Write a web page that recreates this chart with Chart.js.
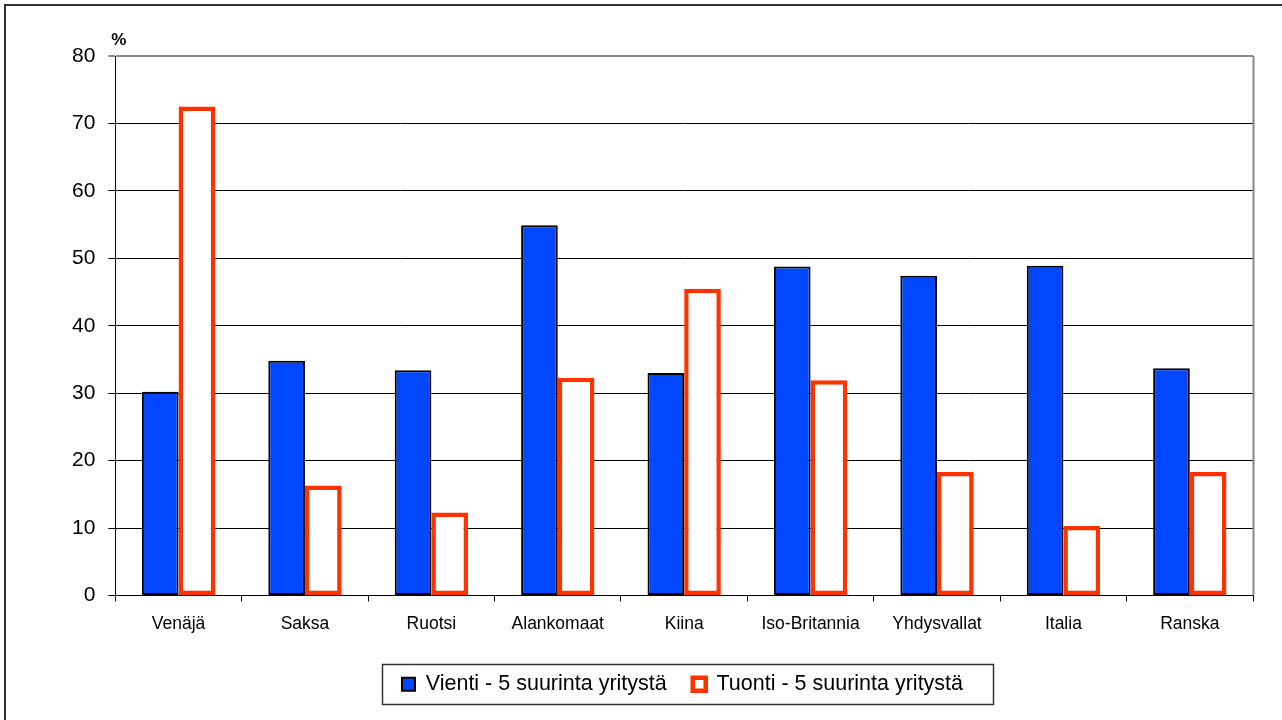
<!DOCTYPE html>
<html>
<head>
<meta charset="utf-8">
<script src="https://cdn.jsdelivr.net/npm/chart.js@4.4.1/dist/chart.umd.min.js"></script>
<style>
html,body{margin:0;padding:0;background:#fff;overflow:hidden;}
#wrap{position:absolute;left:0;top:0;width:1282px;height:720px;}
</style>
</head>
<body>
<div id="wrap"><canvas id="c" width="1282" height="720"></canvas></div>
<script>
const categories = ["Venäjä","Saksa","Ruotsi","Alankomaat","Kiina","Iso-Britannia","Yhdysvallat","Italia","Ranska"];
const vienti = [30.2, 34.8, 33.4, 54.9, 33.0, 48.8, 47.4, 48.9, 33.7];
const tuonti = [72.5, 16.3, 12.3, 32.3, 45.5, 31.9, 18.3, 10.3, 18.3];
const seriesNames = ["Vienti - 5 suurinta yritystä", "Tuonti - 5 suurinta yritystä"];
const yTicks = [0,10,20,30,40,50,60,70,80];
const yUnit = "%";

const FONT = "'Liberation Sans', Arial, sans-serif";
const LEGEND_FIRST_X = 402;

function legendFirstX(lg) {
  const pad = lg.options.labels.padding;
  return ((lg.left + pad) + (lg.right - lg.lineWidths[0])) / 2;
}

const framePlugin = {
  id: 'frame',
  afterLayout(chart) {
    const lg = chart.legend;
    if (lg && lg.lineWidths && lg.lineWidths.length) {
      const shift = LEGEND_FIRST_X - legendFirstX(lg);
      lg.left += shift;
      lg.right += shift;
    }
  },
  afterDraw(chart) {
    const ctx = chart.ctx;
    const a = chart.chartArea;
    ctx.save();
    // outer frame
    ctx.strokeStyle = '#333';
    ctx.lineWidth = 2;
    ctx.beginPath();
    ctx.moveTo(5, 720);
    ctx.lineTo(5, 5);
    ctx.lineTo(1282, 5);
    ctx.stroke();
    // plot right border
    ctx.strokeStyle = '#888';
    ctx.lineWidth = 2;
    ctx.beginPath();
    ctx.moveTo(a.right + 0.5, a.top);
    ctx.lineTo(a.right + 0.5, a.bottom);
    ctx.stroke();
    // unit label
    ctx.fillStyle = '#000';
    ctx.font = 'bold 17px ' + FONT;
    ctx.textAlign = 'left';
    ctx.textBaseline = 'alphabetic';
    ctx.fillText(yUnit, a.left - 4, a.top - 11);
    // legend box
    const lg = chart.legend;
    if (lg && lg.legendHitBoxes && lg.legendHitBoxes.length) {
      const hb = lg.legendHitBoxes;
      const fx = legendFirstX(lg);
      let y0 = Math.min(...hb.map(h => h.top));
      let y1 = Math.max(...hb.map(h => h.top + h.height));
      const cy = (y0 + y1) / 2;
      ctx.strokeStyle = '#333';
      ctx.lineWidth = 1.5;
      ctx.strokeRect(Math.round(fx - 20) + 0.5, Math.round(cy - 20) + 0.5, 611, 40);
    }
    ctx.restore();
  }
};

new Chart(document.getElementById('c'), {
  type: 'bar',
  data: {
    labels: categories,
    datasets: [
      {
        label: seriesNames[0],
        data: vienti,
        backgroundColor: '#0047FF',
        borderColor: '#000',
        borderWidth: 2,
        borderSkipped: false
      },
      {
        label: seriesNames[1],
        data: tuonti,
        backgroundColor: '#fff',
        borderColor: '#FF3300',
        borderWidth: 4.5,
        borderSkipped: false
      }
    ]
  },
  options: {
    responsive: false,
    animation: false,
    devicePixelRatio: 1,
    layout: { padding: { left: 59, right: 29, top: 56, bottom: 15 } },
    datasets: { bar: { barPercentage: 1.0, categoryPercentage: 0.58 } },
    plugins: {
      title: { display: false },
      tooltip: { enabled: false },
      legend: {
        display: true,
        position: 'bottom',
        labels: {
          font: { family: FONT, size: 21.5 },
          color: '#000',
          boxWidth: 13,
          boxHeight: 13,
          padding: 26
        }
      }
    },
    scales: {
      x: {
        offset: true,
        afterFit(s) { s.height += 1; },
        grid: {
          display: true,
          offset: true,
          drawOnChartArea: false,
          drawTicks: true,
          tickLength: 6,
          color: '#000',
          lineWidth: 1
        },
        border: { display: true, color: '#000', width: 1 },
        ticks: {
          font: { family: FONT, size: 17.5 },
          color: '#000',
          padding: 12,
          maxRotation: 0,
          autoSkip: false
        }
      },
      y: {
        min: 0,
        max: 80,
        afterBuildTicks(scale) { scale.ticks = yTicks.map(v => ({ value: v })); },
        grid: {
          color: (c) => (c.tick && c.tick.value === 80) ? '#888' : '#000',
          lineWidth: (c) => (c.tick && c.tick.value === 80) ? 2 : 1,
          tickLength: 7,
          drawTicks: true
        },
        border: { display: true, color: '#000', width: 1 },
        ticks: {
          font: { family: FONT, size: 21 },
          color: '#000',
          padding: 13
        }
      }
    }
  },
  plugins: [framePlugin]
});
</script>
</body>
</html>
